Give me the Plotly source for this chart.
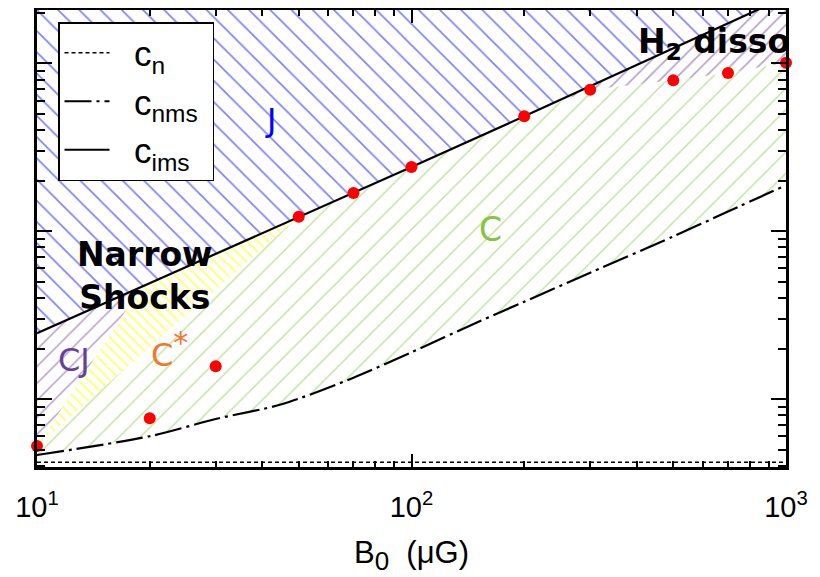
import plotly.graph_objects as go

# ---------------- data ----------------
# red points: limit of C-type shocks, B0 in microGauss, velocity in km/s
B_dots = [10, 20, 30, 50, 70, 100, 200, 300, 500, 700, 1000]
V_dots = [0.525, 0.767, 1.57, 12.2, 16.9, 24.1, 48.4, 69.7, 79.2, 87.6, 101.0]

# ion magnetosonic speed c_ims
B_ims = [10, 20, 30, 50, 70, 100, 200, 300, 500, 700, 1000]
V_ims = [2.47, 4.9, 7.3, 12.2, 16.9, 24.1, 48.4, 73.0, 123.0, 173.0, 249.0]

# neutral magnetosonic speed c_nms
B_nms = [10, 20, 30, 45, 70, 100, 150, 200, 300, 500, 700, 1000]
V_nms = [0.464, 0.60, 0.76, 0.93, 1.34, 1.90, 2.87, 3.80, 5.66, 9.3, 13.1, 18.8]

# neutral sound speed c_n
B_n = [10, 1000]
V_n = [0.42, 0.42]

# boundary CJ / C*
B_cj_edge = [10, 19]
V_cj_edge = [0.525, 4.65]
# boundary C* / C
B_c_edge = [10, 50]
V_c_edge = [0.525, 12.2]

X_TICKS = [10, 100, 1000]
X_TICK_TEXT = ["10<sup>1</sup>", "10<sup>2</sup>", "10<sup>3</sup>"]
Y_TICKS = [1, 10, 100]

X_RANGE = [1.0, 3.0]
Y_RANGE = [-0.405, 2.318]

# ---------------- styling ----------------
BLUE = "#0000ff"
GREEN = "#86c440"
YELLOW = "#ffff00"
PURPLE = "#6a3d9a"
ORANGE = "#f0782e"
FONT = "Liberation Sans, Arial, sans-serif"
GOTHIC = "DejaVu Sans, sans-serif"
NB = "\u00a0"

y_top = 10 ** (Y_RANGE[1] + 1)

fig = go.Figure()


def region(xs, ys, shape, size, solidity, color):
    fig.add_trace(go.Scatter(
        x=xs, y=ys, mode="none", fill="toself",
        fillcolor="rgba(0,0,0,0)",
        fillpattern=dict(shape=shape, size=size, solidity=solidity,
                         fgcolor=color, bgcolor="rgba(0,0,0,0)"),
        showlegend=False, hoverinfo="skip"))


# J region: above c_ims
region(B_ims + [B_ims[-1], B_ims[0]], V_ims + [y_top, y_top], "\\", 15, 0.11, BLUE)

# H2 dissociation region: between red points (B>=200) and c_ims
k = B_dots.index(200)
j = B_ims.index(200)
region(B_dots[k:] + B_ims[j:][::-1], V_dots[k:] + V_ims[j:][::-1], "/", 10, 0.16, PURPLE)

# CJ region
region(B_cj_edge + [B_ims[0]], V_cj_edge + [V_ims[0]], "/", 12, 0.13, PURPLE)

# C* region
m = B_ims.index(50)
region(B_cj_edge + B_ims[1:m + 1] + [B_c_edge[0]],
       V_cj_edge + V_ims[1:m + 1] + [V_c_edge[0]], "\\", 7.5, 0.28, YELLOW)

# C region
n = B_dots.index(50)
region(B_c_edge + B_dots[n + 1:] + B_nms[::-1],
       V_c_edge + V_dots[n + 1:] + V_nms[::-1], "/", 15, 0.095, GREEN)

# lines
fig.add_trace(go.Scatter(x=B_n, y=V_n, mode="lines", name=NB * 2 + "c<sub>n</sub>",
                         line=dict(color="black", width=1.5, dash="4px,3px")))
fig.add_trace(go.Scatter(x=B_nms, y=V_nms, mode="lines",
                         name=NB * 2 + "c<sub>nms</sub>" + NB,
                         line=dict(color="black", width=2.2, dash="27px,5px,3px,5px",
                                   shape="spline", smoothing=0.8)))
fig.add_trace(go.Scatter(x=B_ims, y=V_ims, mode="lines", name=NB * 2 + "c<sub>ims</sub>",
                         line=dict(color="black", width=2.2)))

# red points
fig.add_trace(go.Scatter(x=B_dots, y=V_dots, mode="markers", showlegend=False,
                         marker=dict(color="#ff0000", size=12, line=dict(width=0)),
                         cliponaxis=False))


def px_to_paper(px, py):
    return (px - 37) / 749, (467 - py) / 457


annos = [
    ("<b>Narrow<br>Shocks</b>", 145, 276, 33, "black"),
    ("<b>H<sub>2</sub> disso</b>", 714, 44, 33, "black"),
    ("J", 270, 120, 32, BLUE),
    ("C", 490, 230, 33, GREEN),
    ("C<sup><span style='font-size:30px'>*</span></sup>", 169, 349, 32, ORANGE),
    ("CJ", 74, 360, 32, PURPLE),
]
for txt, px, py, sz, col in annos:
    ax_, ay_ = px_to_paper(px, py)
    fig.add_annotation(x=ax_, y=ay_, xref="paper", yref="paper", text=txt,
                       showarrow=False, font=dict(family=GOTHIC, size=sz, color=col),
                       xanchor="center", yanchor="middle", align="center")

minor_x = [v * d for d in (10, 100) for v in range(2, 10)]
minor_y = [v * d for d in (0.1, 1, 10, 100) for v in range(2, 10)]

# the page adds an 8px body margin, so the figure is 812x569 and offsets are reduced by 8
fig.update_layout(
    width=812, height=569,
    margin=dict(l=29, r=34, t=2, b=110, autoexpand=False),
    plot_bgcolor="white", paper_bgcolor="white",
    font=dict(family=FONT, color="black"),
    showlegend=True,
    legend=dict(x=(58 - 37) / 749, y=(467 - 22) / 457, xanchor="left", yanchor="top",
                bgcolor="white", bordercolor="black", borderwidth=1.5,
                font=dict(family=FONT, size=35, color="black"),
                itemwidth=45, traceorder="normal"),
    xaxis=dict(type="log", range=X_RANGE, tickvals=X_TICKS, ticktext=X_TICK_TEXT,
               ticks="inside", ticklen=13, tickwidth=1.5, tickcolor="black",
               showline=True, linewidth=3, linecolor="black", mirror="ticks",
               showgrid=False, zeroline=False, ticklabelstandoff=12,
               tickfont=dict(family=FONT, size=29),
               minor=dict(tickmode="array", tickvals=minor_x, ticks="inside",
                          ticklen=6, tickwidth=1.5, tickcolor="black", showgrid=False),
               title=dict(text="B<sub><span style='font-size:26px'>0</span></sub>" + NB + " (μG)",
                          font=dict(family=FONT, size=31), standoff=20)),
    yaxis=dict(type="log", range=Y_RANGE, tickvals=Y_TICKS, showticklabels=False,
               ticks="inside", ticklen=15, tickwidth=1.5, tickcolor="black",
               showline=True, linewidth=3, linecolor="black", mirror="ticks",
               showgrid=False, zeroline=False,
               minor=dict(tickmode="array", tickvals=minor_y, ticks="inside",
                          ticklen=8, tickwidth=1.5, tickcolor="black", showgrid=False)),
)

fig.write_html("out.html")
